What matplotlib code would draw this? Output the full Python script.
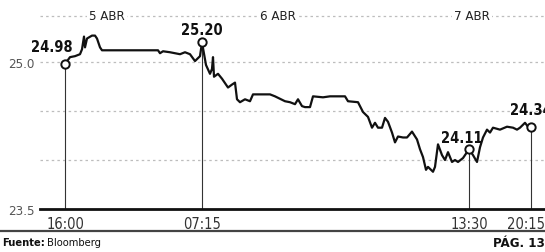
import matplotlib
matplotlib.use("Agg")
import matplotlib.pyplot as plt
import matplotlib.transforms as mtrans
from matplotlib.lines import Line2D

plt.rcParams['font.family'] = ['DejaVu Sans']
plt.rcParams['font.stretch'] = 'condensed'

# tiempo transcurrido (unidades del eje) y precio
t = [0, 5, 10, 15, 17, 19, 20, 22, 27, 30, 32, 35, 37, 93, 95, 98, 105, 110,
     115, 120, 125, 130, 135, 137, 141, 145, 147, 148, 149, 153, 157, 163, 167,
     170, 172, 175, 180, 185, 188, 205, 210, 220, 225, 230, 233, 237, 240, 245,
     248, 258, 265, 280, 283, 293, 298, 303, 307, 310, 313, 317, 320, 323, 327,
     330, 333, 338, 342, 347, 352, 355, 358, 361, 363, 368, 370, 373, 377, 380,
     383, 387, 390, 393, 398, 404, 408, 412, 415, 418, 422, 425, 428, 435, 442,
     448, 452, 455, 460, 463, 466]
precio = [24.98, 25.05, 25.06, 25.08, 25.13, 25.26, 25.15, 25.24, 25.27, 25.27,
          25.24, 25.15, 25.12, 25.12, 25.09, 25.11, 25.10, 25.09, 25.08, 25.10,
          25.08, 25.01, 25.06, 25.20, 24.97, 24.88, 24.93, 25.05, 24.85, 24.88,
          24.83, 24.74, 24.77, 24.79, 24.62, 24.59, 24.62, 24.60, 24.67, 24.67,
          24.65, 24.60, 24.59, 24.57, 24.62, 24.55, 24.54, 24.54, 24.65, 24.64,
          24.65, 24.65, 24.60, 24.59, 24.49, 24.44, 24.33, 24.38, 24.33, 24.33,
          24.43, 24.39, 24.28, 24.18, 24.24, 24.23, 24.23, 24.29, 24.21, 24.11,
          24.03, 23.90, 23.93, 23.88, 23.93, 24.16, 24.05, 24.00, 24.08, 23.98,
          24.00, 23.98, 24.02, 24.11, 24.05, 23.98, 24.13, 24.23, 24.31, 24.28,
          24.33, 24.31, 24.34, 24.33, 24.31, 24.33, 24.38, 24.34, 24.34]

marca_t = [0, 137, 404, 466]
marca_v = [24.98, 25.20, 24.11, 24.34]
marca_txt = ['24.98', '25.20', '24.11', '24.34']
marca_off = [(-13, 18), (0, 13), (-7, 12), (0, 17)]
horas = ['16:00', '07:15', '13:30', '20:15']

dias = ['5 ABR', '6 ABR', '7 ABR']
dias_t = [42, 213, 407]

y_min, y_max = 23.5, 25.47

fig = plt.figure(figsize=(5.45, 2.53), dpi=100)
ax = fig.add_axes([40 / 545, 43 / 253, 505 / 545, 193 / 253])

for g in [24.0, 24.5, 25.0]:
    ax.axhline(g, color='#bdbdbd', lw=0.9, ls=(0, (2, 2.5)), zorder=0)
ax.axhline(y_max, color='#bdbdbd', lw=0.9, ls=(0, (2, 2.5)), zorder=0, clip_on=False)

for d, dt in zip(dias, dias_t):
    ax.text(dt, y_max, d, ha='center', va='center', fontsize=9.5, color='#222222',
            bbox=dict(facecolor='white', edgecolor='none', pad=1.5), clip_on=False)

ax.plot(t, precio, color='#111111', lw=1.6, zorder=3)

for mt, mv in zip(marca_t, marca_v):
    ax.plot([mt, mt], [y_min, mv], color='#333333', lw=0.8, zorder=2)
ax.plot(marca_t, marca_v, 'o', ms=6, mfc='white', mec='#111111', mew=1.4, zorder=4)

for mt, mv, txt, off in zip(marca_t, marca_v, marca_txt, marca_off):
    ax.annotate(txt, (mt, mv), xytext=off, textcoords='offset pixels',
                ha='center', va='center', fontsize=10.5, fontweight='bold',
                color='#111111', zorder=5, annotation_clip=False)

ax.set_xlim(-25, 480)
ax.set_ylim(y_min, y_max)
ax.set_xticks(marca_t)
ax.set_xticklabels(horas, fontsize=10.5, color='#333333')
ax.set_yticks([23.5, 25.0])
ax.set_yticklabels(['23.5', '25.0'], fontsize=9.5, color='#555555')
ax.tick_params(axis='both', length=0)
ax.tick_params(axis='x', pad=5)
ax.tick_params(axis='y', pad=4)

# la última hora queda pegada al borde derecho
ult = ax.get_xticklabels()[-1]
ult.set_transform(ult.get_transform() + mtrans.ScaledTranslation(-5 / 100, 0, fig.dpi_scale_trans))

for s in ['top', 'right', 'left']:
    ax.spines[s].set_visible(False)
ax.spines['bottom'].set_color('#111111')
ax.spines['bottom'].set_linewidth(2)

fig.add_artist(Line2D([0, 1], [21 / 253, 21 / 253], color='#444444', lw=1.6))
fuente = fig.text(2 / 545, 9.5 / 253, 'Fuente:', fontsize=8, fontweight='bold',
                  va='center', ha='left', color='#111111')
r = fig.canvas.get_renderer()
x_fin = fuente.get_window_extent(renderer=r).x1 / 545
fig.text(x_fin + 2 / 545, 9.5 / 253, 'Bloomberg', fontsize=8,
         va='center', ha='left', color='#111111')
fig.text(1.0, 9.5 / 253, 'PÁG. 13', fontsize=9.5, fontweight='bold',
         va='center', ha='right', color='#111111')

fig.savefig('out.png', dpi=100)
